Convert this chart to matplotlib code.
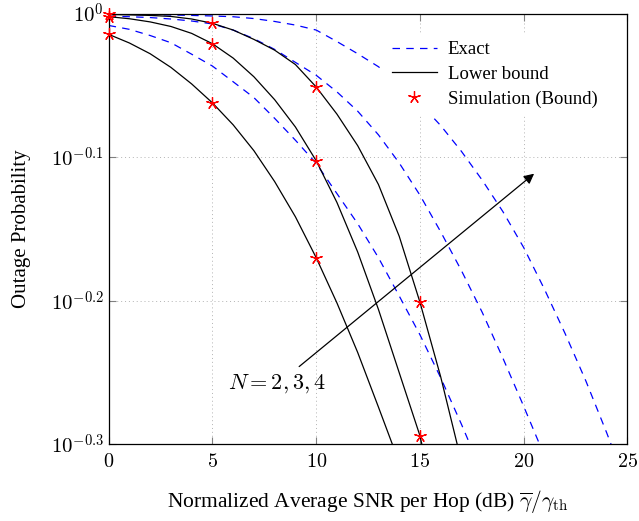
import matplotlib
matplotlib.use('Agg')
import matplotlib.pyplot as plt
from matplotlib.ticker import FixedLocator, NullLocator

plt.rcParams['font.family'] = ['Liberation Serif', 'DejaVu Serif']
plt.rcParams['mathtext.fontset'] = 'cm'

# SNR grid (dB) for the curves
snr_lb2 = [0, 1, 2, 3, 4, 5, 6, 7, 8, 9, 10, 11, 12, 13, 13.7]
snr_lb3 = [0, 1, 2, 3, 4, 5, 6, 7, 8, 9, 10, 11, 12, 13, 14, 15, 15.2]
snr_lb4 = [0, 1, 2, 3, 4, 5, 6, 7, 8, 9, 10, 11, 12, 13, 14, 15, 16, 17]
snr_ex2 = list(range(0, 19))
snr_ex3 = list(range(0, 22))
snr_ex4 = list(range(0, 26))

# lower bound (black solid)
lb_n2 = [0.9672, 0.9539, 0.9376, 0.9173, 0.8933, 0.8666, 0.8366, 0.8026,
         0.7638, 0.7219, 0.6761, 0.6288, 0.5808, 0.5321, 0.5000]
lb_n3 = [0.9950, 0.9917, 0.9867, 0.9795, 0.9687, 0.9528, 0.9311, 0.9036,
         0.8710, 0.8337, 0.7898, 0.7387, 0.6823, 0.6223, 0.5623, 0.5082, 0.4932]
lb_n4 = [0.9986, 0.9979, 0.9970, 0.9954, 0.9913, 0.9845, 0.9739, 0.9594,
         0.9430, 0.9215, 0.8890, 0.8511, 0.8091, 0.7603, 0.6998, 0.6295,
         0.5585, 0.4875]

# exact (blue dashed)
ex_n2 = [0.9811, 0.9750, 0.9654, 0.9543, 0.9369, 0.9193, 0.8964, 0.8739,
         0.8453, 0.8162, 0.7865, 0.7493, 0.7140, 0.6761, 0.6359, 0.5975,
         0.5577, 0.5176, 0.4786]
ex_n3 = [0.9959, 0.9949, 0.9936, 0.9913, 0.9881, 0.9835, 0.9739, 0.9605,
         0.9441, 0.9247, 0.9058, 0.8820, 0.8551, 0.8233, 0.7870, 0.7474,
         0.7047, 0.6622, 0.6194, 0.5754, 0.5327, 0.4920]
ex_n4 = [0.9988, 0.9986, 0.9982, 0.9977, 0.9970, 0.9961, 0.9949, 0.9920,
         0.9874, 0.9817, 0.9739, 0.9561, 0.9376, 0.9183, 0.8943, 0.8660,
         0.8356, 0.8017, 0.7656, 0.7278, 0.6871, 0.6427, 0.5984, 0.5546,
         0.5105, 0.4677]

# simulation points (red stars)
sim_snr2 = [0, 5, 10]
sim_n2 = [0.9672, 0.8666, 0.6761]
sim_snr34 = [0, 5, 10, 15]
sim_n3 = [0.9950, 0.9528, 0.7898, 0.5082]
sim_n4 = [0.9986, 0.9845, 0.8890, 0.6295]

xticks = [0, 5, 10, 15, 20, 25]
yexps = ['0', '-0.1', '-0.2', '-0.3']

fig = plt.figure(figsize=(6.39, 5.21), dpi=100)
ax = fig.add_axes([0.170, 0.147, 0.812, 0.827])
ax.set_yscale('log')

ex_style = dict(color='blue', linestyle=(0, (6, 5)), linewidth=0.9)
lb_style = dict(color='black', linestyle='-', linewidth=0.9)
star = (5, 2, 0)
sim_style = dict(color='red', linestyle='none', marker=star, markersize=9,
                 markeredgewidth=0.9, clip_on=False, zorder=5)

ax.plot(snr_ex2, ex_n2, label='Exact', **ex_style)
ax.plot(snr_ex3, ex_n3, **ex_style)
ax.plot(snr_ex4, ex_n4, **ex_style)
ax.plot(snr_lb2, lb_n2, label='Lower bound', **lb_style)
ax.plot(snr_lb3, lb_n3, **lb_style)
ax.plot(snr_lb4, lb_n4, **lb_style)
ax.plot(sim_snr2, sim_n2, label='Simulation (Bound)', **sim_style)
ax.plot(sim_snr34, sim_n3, **sim_style)
ax.plot(sim_snr34, sim_n4, **sim_style)

ax.set_xlim(0, 25)
ax.set_ylim(10 ** -0.3, 1.0)
ax.xaxis.set_major_locator(FixedLocator(xticks))
ax.yaxis.set_major_locator(FixedLocator([10 ** float(e) for e in yexps]))
ax.yaxis.set_minor_locator(NullLocator())
ax.set_yticklabels(['$10^{%s}$' % e for e in yexps])
ax.set_xticklabels(['$%d$' % t for t in xticks])

ax.tick_params(direction='in', top=True, right=True, length=5, width=0.8,
               color='0.5', labelsize=15)
ax.tick_params(axis='x', pad=6, labelsize=14.5)
ax.grid(True, which='major', linestyle=(0, (1, 3)), color='0.7', linewidth=0.7)
for s in ax.spines.values():
    s.set_linewidth(0.9)

ax.set_xlabel(r'Normalized Average SNR per Hop (dB) $\overline{\gamma}/\gamma_{\mathrm{th}}$',
              fontsize=15.5, labelpad=12)
ax.set_ylabel('Outage Probability', fontsize=15, labelpad=14)

# arrow for increasing N
ax.annotate('', xy=(20.5, 10 ** -0.1115), xytext=(9.18, 10 ** -0.2458),
            arrowprops=dict(arrowstyle='-|>', color='black', lw=0.9,
                            mutation_scale=15, shrinkA=0, shrinkB=0))
ax.text(8.1, 10 ** -0.258, '$N = 2, 3, 4$', fontsize=16, ha='center', va='center')

leg = ax.legend(loc='upper right', bbox_to_anchor=(0.975, 0.975), fontsize=13.5,
                frameon=True, fancybox=False, handlelength=2.4,
                labelspacing=0.4, borderpad=0.4, handletextpad=0.6)
leg.get_frame().set_edgecolor('white')
leg.get_frame().set_facecolor('white')
leg.get_frame().set_alpha(1.0)

plt.savefig('out.png', dpi=100)
